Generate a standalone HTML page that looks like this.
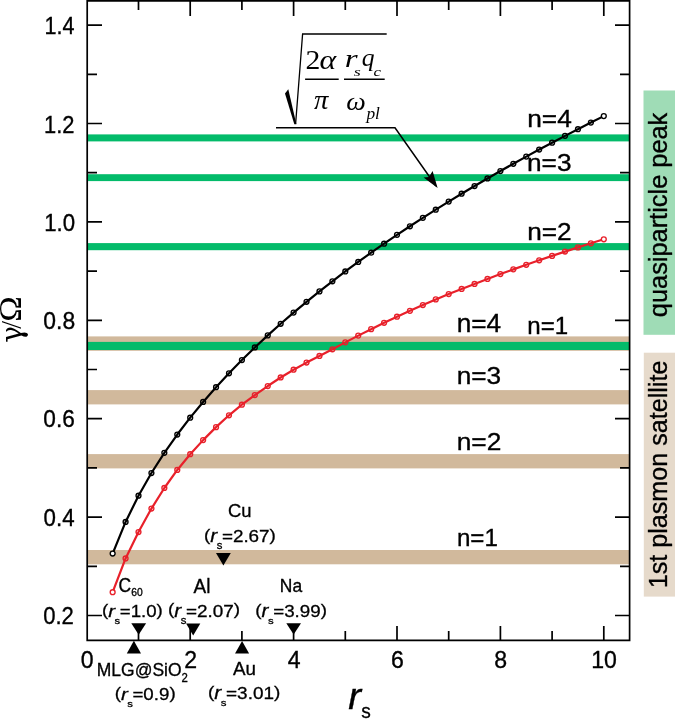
<!DOCTYPE html>
<html><head><meta charset="utf-8"><style>html,body{margin:0;padding:0;background:#fff;overflow:hidden}svg{display:block}</style></head>
<body><svg width="675" height="719" viewBox="0 0 675 719">
<rect width="675" height="719" fill="#fff"/>
<rect x="643.5" y="90.5" width="40" height="244.3" fill="#9fdcb6"/>
<rect x="643.8" y="352.7" width="40" height="243.9" fill="#e6dacb"/>
<rect x="88" y="336.4" width="541" height="14.4" fill="#d1b99c"/>
<rect x="88" y="390.1" width="541" height="14.3" fill="#d1b99c"/>
<rect x="88" y="454.1" width="541" height="14.3" fill="#d1b99c"/>
<rect x="88" y="550.0" width="541" height="14.3" fill="#d1b99c"/>
<rect x="88" y="134.4" width="541" height="7.0" fill="#03bb6a"/>
<rect x="88" y="174.2" width="541" height="6.9" fill="#03bb6a"/>
<rect x="88" y="243.1" width="541" height="7.1" fill="#03bb6a"/>
<rect x="88" y="341.9" width="541" height="8.1" fill="#03bb6a"/>
<polyline points="112.65,592.20 125.58,558.47 138.50,532.09 151.43,508.58 164.35,487.99 177.28,469.97 190.20,454.24 203.12,440.12 216.05,427.14 228.98,415.30 241.90,404.70 254.82,395.08 267.75,386.03 280.68,377.49 293.60,369.69 306.53,362.59 319.45,355.93 332.38,349.28 345.30,342.36 358.23,335.62 371.15,329.15 384.08,322.78 397.00,316.71 409.93,310.86 422.85,305.07 435.78,299.39 448.70,294.02 461.63,288.92 474.55,283.92 487.48,278.92 500.40,274.06 513.33,269.37 526.25,264.76 539.17,260.27 552.10,255.89 565.02,251.59 577.95,247.39 590.88,243.29 603.80,239.30" fill="none" stroke="#e8202a" stroke-width="2.2" stroke-linejoin="round"/>
<circle cx="112.65" cy="592.20" r="2.45" fill="#fff" stroke="#e8202a" stroke-width="1.35"/>
<circle cx="125.58" cy="558.47" r="2.45" fill="none" stroke="#e8202a" stroke-width="1.35"/>
<circle cx="138.50" cy="532.09" r="2.45" fill="none" stroke="#e8202a" stroke-width="1.35"/>
<circle cx="151.43" cy="508.58" r="2.45" fill="none" stroke="#e8202a" stroke-width="1.35"/>
<circle cx="164.35" cy="487.99" r="2.45" fill="none" stroke="#e8202a" stroke-width="1.35"/>
<circle cx="177.28" cy="469.97" r="2.45" fill="none" stroke="#e8202a" stroke-width="1.35"/>
<circle cx="190.20" cy="454.24" r="2.45" fill="none" stroke="#e8202a" stroke-width="1.35"/>
<circle cx="203.12" cy="440.12" r="2.45" fill="none" stroke="#e8202a" stroke-width="1.35"/>
<circle cx="216.05" cy="427.14" r="2.45" fill="none" stroke="#e8202a" stroke-width="1.35"/>
<circle cx="228.98" cy="415.30" r="2.45" fill="none" stroke="#e8202a" stroke-width="1.35"/>
<circle cx="241.90" cy="404.70" r="2.45" fill="none" stroke="#e8202a" stroke-width="1.35"/>
<circle cx="254.82" cy="395.08" r="2.45" fill="none" stroke="#e8202a" stroke-width="1.35"/>
<circle cx="267.75" cy="386.03" r="2.45" fill="none" stroke="#e8202a" stroke-width="1.35"/>
<circle cx="280.68" cy="377.49" r="2.45" fill="none" stroke="#e8202a" stroke-width="1.35"/>
<circle cx="293.60" cy="369.69" r="2.45" fill="none" stroke="#e8202a" stroke-width="1.35"/>
<circle cx="306.53" cy="362.59" r="2.45" fill="none" stroke="#e8202a" stroke-width="1.35"/>
<circle cx="319.45" cy="355.93" r="2.45" fill="none" stroke="#e8202a" stroke-width="1.35"/>
<circle cx="332.38" cy="349.28" r="2.45" fill="none" stroke="#e8202a" stroke-width="1.35"/>
<circle cx="345.30" cy="342.36" r="2.45" fill="none" stroke="#e8202a" stroke-width="1.35"/>
<circle cx="358.23" cy="335.62" r="2.45" fill="none" stroke="#e8202a" stroke-width="1.35"/>
<circle cx="371.15" cy="329.15" r="2.45" fill="none" stroke="#e8202a" stroke-width="1.35"/>
<circle cx="384.08" cy="322.78" r="2.45" fill="none" stroke="#e8202a" stroke-width="1.35"/>
<circle cx="397.00" cy="316.71" r="2.45" fill="none" stroke="#e8202a" stroke-width="1.35"/>
<circle cx="409.93" cy="310.86" r="2.45" fill="none" stroke="#e8202a" stroke-width="1.35"/>
<circle cx="422.85" cy="305.07" r="2.45" fill="none" stroke="#e8202a" stroke-width="1.35"/>
<circle cx="435.78" cy="299.39" r="2.45" fill="none" stroke="#e8202a" stroke-width="1.35"/>
<circle cx="448.70" cy="294.02" r="2.45" fill="none" stroke="#e8202a" stroke-width="1.35"/>
<circle cx="461.63" cy="288.92" r="2.45" fill="none" stroke="#e8202a" stroke-width="1.35"/>
<circle cx="474.55" cy="283.92" r="2.45" fill="none" stroke="#e8202a" stroke-width="1.35"/>
<circle cx="487.48" cy="278.92" r="2.45" fill="none" stroke="#e8202a" stroke-width="1.35"/>
<circle cx="500.40" cy="274.06" r="2.45" fill="none" stroke="#e8202a" stroke-width="1.35"/>
<circle cx="513.33" cy="269.37" r="2.45" fill="none" stroke="#e8202a" stroke-width="1.35"/>
<circle cx="526.25" cy="264.76" r="2.45" fill="none" stroke="#e8202a" stroke-width="1.35"/>
<circle cx="539.17" cy="260.27" r="2.45" fill="none" stroke="#e8202a" stroke-width="1.35"/>
<circle cx="552.10" cy="255.89" r="2.45" fill="none" stroke="#e8202a" stroke-width="1.35"/>
<circle cx="565.02" cy="251.59" r="2.45" fill="none" stroke="#e8202a" stroke-width="1.35"/>
<circle cx="577.95" cy="247.39" r="2.45" fill="none" stroke="#e8202a" stroke-width="1.35"/>
<circle cx="590.88" cy="243.29" r="2.45" fill="none" stroke="#e8202a" stroke-width="1.35"/>
<circle cx="603.80" cy="239.30" r="2.45" fill="#fff" stroke="#e8202a" stroke-width="1.35"/>
<polyline points="112.65,553.58 125.58,521.93 138.50,495.70 151.43,473.03 164.35,452.86 177.28,434.54 190.20,417.67 203.12,401.97 216.05,387.23 228.98,373.30 241.90,360.07 254.82,347.45 267.75,335.38 280.68,323.77 293.60,312.60 306.53,301.82 319.45,291.40 332.38,281.30 345.30,271.49 358.23,261.97 371.15,252.70 384.08,243.67 397.00,234.86 409.93,226.27 422.85,217.87 435.78,209.65 448.70,201.62 461.63,193.74 474.55,186.03 487.48,178.47 500.40,171.05 513.33,163.76 526.25,156.61 539.17,149.58 552.10,142.66 565.02,135.87 577.95,129.18 590.88,122.60 603.80,116.12" fill="none" stroke="#000" stroke-width="2.2" stroke-linejoin="round"/>
<circle cx="112.65" cy="553.58" r="2.45" fill="#fff" stroke="#000" stroke-width="1.35"/>
<circle cx="125.58" cy="521.93" r="2.45" fill="none" stroke="#000" stroke-width="1.35"/>
<circle cx="138.50" cy="495.70" r="2.45" fill="none" stroke="#000" stroke-width="1.35"/>
<circle cx="151.43" cy="473.03" r="2.45" fill="none" stroke="#000" stroke-width="1.35"/>
<circle cx="164.35" cy="452.86" r="2.45" fill="none" stroke="#000" stroke-width="1.35"/>
<circle cx="177.28" cy="434.54" r="2.45" fill="none" stroke="#000" stroke-width="1.35"/>
<circle cx="190.20" cy="417.67" r="2.45" fill="none" stroke="#000" stroke-width="1.35"/>
<circle cx="203.12" cy="401.97" r="2.45" fill="none" stroke="#000" stroke-width="1.35"/>
<circle cx="216.05" cy="387.23" r="2.45" fill="none" stroke="#000" stroke-width="1.35"/>
<circle cx="228.98" cy="373.30" r="2.45" fill="none" stroke="#000" stroke-width="1.35"/>
<circle cx="241.90" cy="360.07" r="2.45" fill="none" stroke="#000" stroke-width="1.35"/>
<circle cx="254.82" cy="347.45" r="2.45" fill="none" stroke="#000" stroke-width="1.35"/>
<circle cx="267.75" cy="335.38" r="2.45" fill="none" stroke="#000" stroke-width="1.35"/>
<circle cx="280.68" cy="323.77" r="2.45" fill="none" stroke="#000" stroke-width="1.35"/>
<circle cx="293.60" cy="312.60" r="2.45" fill="none" stroke="#000" stroke-width="1.35"/>
<circle cx="306.53" cy="301.82" r="2.45" fill="none" stroke="#000" stroke-width="1.35"/>
<circle cx="319.45" cy="291.40" r="2.45" fill="none" stroke="#000" stroke-width="1.35"/>
<circle cx="332.38" cy="281.30" r="2.45" fill="none" stroke="#000" stroke-width="1.35"/>
<circle cx="345.30" cy="271.49" r="2.45" fill="none" stroke="#000" stroke-width="1.35"/>
<circle cx="358.23" cy="261.97" r="2.45" fill="none" stroke="#000" stroke-width="1.35"/>
<circle cx="371.15" cy="252.70" r="2.45" fill="none" stroke="#000" stroke-width="1.35"/>
<circle cx="384.08" cy="243.67" r="2.45" fill="none" stroke="#000" stroke-width="1.35"/>
<circle cx="397.00" cy="234.86" r="2.45" fill="none" stroke="#000" stroke-width="1.35"/>
<circle cx="409.93" cy="226.27" r="2.45" fill="none" stroke="#000" stroke-width="1.35"/>
<circle cx="422.85" cy="217.87" r="2.45" fill="none" stroke="#000" stroke-width="1.35"/>
<circle cx="435.78" cy="209.65" r="2.45" fill="none" stroke="#000" stroke-width="1.35"/>
<circle cx="448.70" cy="201.62" r="2.45" fill="none" stroke="#000" stroke-width="1.35"/>
<circle cx="461.63" cy="193.74" r="2.45" fill="none" stroke="#000" stroke-width="1.35"/>
<circle cx="474.55" cy="186.03" r="2.45" fill="none" stroke="#000" stroke-width="1.35"/>
<circle cx="487.48" cy="178.47" r="2.45" fill="none" stroke="#000" stroke-width="1.35"/>
<circle cx="500.40" cy="171.05" r="2.45" fill="none" stroke="#000" stroke-width="1.35"/>
<circle cx="513.33" cy="163.76" r="2.45" fill="none" stroke="#000" stroke-width="1.35"/>
<circle cx="526.25" cy="156.61" r="2.45" fill="none" stroke="#000" stroke-width="1.35"/>
<circle cx="539.17" cy="149.58" r="2.45" fill="none" stroke="#000" stroke-width="1.35"/>
<circle cx="552.10" cy="142.66" r="2.45" fill="none" stroke="#000" stroke-width="1.35"/>
<circle cx="565.02" cy="135.87" r="2.45" fill="none" stroke="#000" stroke-width="1.35"/>
<circle cx="577.95" cy="129.18" r="2.45" fill="none" stroke="#000" stroke-width="1.35"/>
<circle cx="590.88" cy="122.60" r="2.45" fill="none" stroke="#000" stroke-width="1.35"/>
<circle cx="603.80" cy="116.12" r="2.45" fill="#fff" stroke="#000" stroke-width="1.35"/>
<g stroke="#000" stroke-width="1.7" fill="none">
<path d="M87.2,0.8 H629.6 V640.4 H87.2 Z"/>
<path d="M88,615.50 h14 M629,615.50 h-14"/>
<path d="M88,566.30 h9 M629,566.30 h-9"/>
<path d="M88,517.10 h14 M629,517.10 h-14"/>
<path d="M88,467.90 h9 M629,467.90 h-9"/>
<path d="M88,418.70 h14 M629,418.70 h-14"/>
<path d="M88,369.50 h9 M629,369.50 h-9"/>
<path d="M88,320.30 h14 M629,320.30 h-14"/>
<path d="M88,271.10 h9 M629,271.10 h-9"/>
<path d="M88,221.90 h14 M629,221.90 h-14"/>
<path d="M88,172.70 h9 M629,172.70 h-9"/>
<path d="M88,123.50 h14 M629,123.50 h-14"/>
<path d="M88,74.30 h9 M629,74.30 h-9"/>
<path d="M88,25.10 h14 M629,25.10 h-14"/>
<path d="M138.50,640 v-9 M138.50,1 v9"/>
<path d="M190.20,640 v-14 M190.20,1 v15"/>
<path d="M241.90,640 v-9 M241.90,1 v9"/>
<path d="M293.60,640 v-14 M293.60,1 v15"/>
<path d="M345.30,640 v-9 M345.30,1 v9"/>
<path d="M397.00,640 v-14 M397.00,1 v15"/>
<path d="M448.70,640 v-9 M448.70,1 v9"/>
<path d="M500.40,640 v-14 M500.40,1 v15"/>
<path d="M552.10,640 v-9 M552.10,1 v9"/>
<path d="M603.80,640 v-14 M603.80,1 v15"/>
</g>
<g transform="translate(43.16,624.46) scale(0.9218,0.9885)"><text style="font-family:'Liberation Sans',Arial,sans-serif;stroke:#000;stroke-width:0.35px;font-size:24px">0.2</text></g>
<g transform="translate(43.54,525.86) scale(0.9299,0.9887)"><text style="font-family:'Liberation Sans',Arial,sans-serif;stroke:#000;stroke-width:0.35px;font-size:24px">0.4</text></g>
<g transform="translate(43.36,427.36) scale(0.9445,0.9885)"><text style="font-family:'Liberation Sans',Arial,sans-serif;stroke:#000;stroke-width:0.35px;font-size:24px">0.6</text></g>
<g transform="translate(43.36,328.95) scale(0.9539,1.0057)"><text style="font-family:'Liberation Sans',Arial,sans-serif;stroke:#000;stroke-width:0.35px;font-size:24px">0.8</text></g>
<g transform="translate(44.22,230.56) scale(0.9250,0.9772)"><text style="font-family:'Liberation Sans',Arial,sans-serif;stroke:#000;stroke-width:0.35px;font-size:24px">1.0</text></g>
<g transform="translate(44.00,132.70) scale(0.9131,0.9851)"><text style="font-family:'Liberation Sans',Arial,sans-serif;stroke:#000;stroke-width:0.35px;font-size:24px">1.2</text></g>
<g transform="translate(44.43,34.20) scale(0.9004,0.9995)"><text style="font-family:'Liberation Sans',Arial,sans-serif;stroke:#000;stroke-width:0.35px;font-size:24px">1.4</text></g>
<g transform="translate(80.83,667.66) scale(0.9633,0.9890)"><text style="font-family:'Liberation Sans',Arial,sans-serif;stroke:#000;stroke-width:0.35px;font-size:24px">0</text></g>
<g transform="translate(184.30,667.90) scale(0.9633,0.9890)"><text style="font-family:'Liberation Sans',Arial,sans-serif;stroke:#000;stroke-width:0.35px;font-size:24px">2</text></g>
<g transform="translate(287.83,667.90) scale(0.9633,0.9890)"><text style="font-family:'Liberation Sans',Arial,sans-serif;stroke:#000;stroke-width:0.35px;font-size:24px">4</text></g>
<g transform="translate(390.96,667.66) scale(0.9633,0.9890)"><text style="font-family:'Liberation Sans',Arial,sans-serif;stroke:#000;stroke-width:0.35px;font-size:24px">6</text></g>
<g transform="translate(494.37,667.66) scale(0.9633,0.9890)"><text style="font-family:'Liberation Sans',Arial,sans-serif;stroke:#000;stroke-width:0.35px;font-size:24px">8</text></g>
<g transform="translate(591.21,667.66) scale(0.9633,0.9890)"><text style="font-family:'Liberation Sans',Arial,sans-serif;stroke:#000;stroke-width:0.35px;font-size:24px">10</text></g>
<g transform="translate(527.22,127.49) scale(1.0958,1.0349)"><text style="font-family:'Liberation Sans',Arial,sans-serif;stroke:#000;stroke-width:0.35px;font-size:24px">n=4</text></g>
<g transform="translate(527.00,171.35) scale(1.0921,1.0001)"><text style="font-family:'Liberation Sans',Arial,sans-serif;stroke:#000;stroke-width:0.35px;font-size:24px">n=3</text></g>
<g transform="translate(527.23,239.59) scale(1.0917,1.0142)"><text style="font-family:'Liberation Sans',Arial,sans-serif;stroke:#000;stroke-width:0.35px;font-size:24px">n=2</text></g>
<g transform="translate(527.32,334.20) scale(1.0041,0.9935)"><text style="font-family:'Liberation Sans',Arial,sans-serif;stroke:#000;stroke-width:0.35px;font-size:24px">n=1</text></g>
<g transform="translate(456.74,331.98) scale(1.0923,1.0527)"><text style="font-family:'Liberation Sans',Arial,sans-serif;stroke:#000;stroke-width:0.35px;font-size:24px">n=4</text></g>
<g transform="translate(456.72,384.45) scale(1.0931,1.0001)"><text style="font-family:'Liberation Sans',Arial,sans-serif;stroke:#000;stroke-width:0.35px;font-size:24px">n=3</text></g>
<g transform="translate(456.69,449.79) scale(1.0969,1.0259)"><text style="font-family:'Liberation Sans',Arial,sans-serif;stroke:#000;stroke-width:0.35px;font-size:24px">n=2</text></g>
<g transform="translate(456.94,545.99) scale(1.0067,1.0231)"><text style="font-family:'Liberation Sans',Arial,sans-serif;stroke:#000;stroke-width:0.35px;font-size:24px">n=1</text></g>
<g transform="translate(227.92,517.27) scale(0.9188,0.9053)"><text style="font-family:'Liberation Sans',Arial,sans-serif;stroke:#000;stroke-width:0.35px;font-size:20px">Cu</text></g>
<g transform="translate(204.04,541.94) scale(0.9425,0.8479)"><text style="font-family:'Liberation Sans',Arial,sans-serif;stroke:#000;stroke-width:0.35px;font-size:20px"><tspan dy="-1.4">(</tspan><tspan dy="1.4" style="font-style:italic;font-size:22px">r</tspan><tspan dy="8.8" dx="-0.6" style="font-size:12px">s</tspan><tspan dy="-8.8" dx="-0.4">=2.67</tspan><tspan dy="-1.4">)</tspan></text></g>
<g transform="translate(118.59,592.34) scale(0.8735,0.9810)"><text style="font-family:'Liberation Sans',Arial,sans-serif;stroke:#000;stroke-width:0.35px;font-size:20px">C<tspan dy="3.8" dx="0.2" style="font-size:11.8px">60</tspan></text></g>
<g transform="translate(102.03,616.98) scale(0.9329,0.7884)"><text style="font-family:'Liberation Sans',Arial,sans-serif;stroke:#000;stroke-width:0.35px;font-size:20px"><tspan dy="-1.4">(</tspan><tspan dy="1.4" style="font-style:italic;font-size:22px">r</tspan><tspan dy="8.8" dx="-0.6" style="font-size:12px">s</tspan><tspan dy="-8.8" dx="-0.4">=1.0</tspan><tspan dy="-1.4">)</tspan></text></g>
<g transform="translate(193.50,592.50) scale(0.9498,0.9927)"><text style="font-family:'Liberation Sans',Arial,sans-serif;stroke:#000;stroke-width:0.35px;font-size:20px">Al</text></g>
<g transform="translate(168.03,616.55) scale(0.9461,0.8360)"><text style="font-family:'Liberation Sans',Arial,sans-serif;stroke:#000;stroke-width:0.35px;font-size:20px"><tspan dy="-1.4">(</tspan><tspan dy="1.4" style="font-style:italic;font-size:22px">r</tspan><tspan dy="8.8" dx="-0.6" style="font-size:12px">s</tspan><tspan dy="-8.8" dx="-0.4">=2.07</tspan><tspan dy="-1.4">)</tspan></text></g>
<g transform="translate(279.83,592.37) scale(0.8708,0.9363)"><text style="font-family:'Liberation Sans',Arial,sans-serif;stroke:#000;stroke-width:0.35px;font-size:20px">Na</text></g>
<g transform="translate(255.35,616.69) scale(0.9395,0.8201)"><text style="font-family:'Liberation Sans',Arial,sans-serif;stroke:#000;stroke-width:0.35px;font-size:20px"><tspan dy="-1.4">(</tspan><tspan dy="1.4" style="font-style:italic;font-size:22px">r</tspan><tspan dy="8.8" dx="-0.6" style="font-size:12px">s</tspan><tspan dy="-8.8" dx="-0.4">=3.99</tspan><tspan dy="-1.4">)</tspan></text></g>
<g transform="translate(96.80,676.09) scale(0.8751,0.9517)"><text style="font-family:'Liberation Sans',Arial,sans-serif;stroke:#000;stroke-width:0.35px;font-size:20px">MLG@SiO<tspan dy="6" style="font-size:13px">2</tspan></text></g>
<g transform="translate(114.67,699.74) scale(0.9365,0.7924)"><text style="font-family:'Liberation Sans',Arial,sans-serif;stroke:#000;stroke-width:0.35px;font-size:20px"><tspan dy="-1.4">(</tspan><tspan dy="1.4" style="font-style:italic;font-size:22px">r</tspan><tspan dy="8.8" dx="-0.6" style="font-size:12px">s</tspan><tspan dy="-8.8" dx="-0.4">=0.9</tspan><tspan dy="-1.4">)</tspan></text></g>
<g transform="translate(233.07,674.68) scale(0.9389,0.8871)"><text style="font-family:'Liberation Sans',Arial,sans-serif;stroke:#000;stroke-width:0.35px;font-size:20px">Au</text></g>
<g transform="translate(208.01,699.14) scale(0.9495,0.7924)"><text style="font-family:'Liberation Sans',Arial,sans-serif;stroke:#000;stroke-width:0.35px;font-size:20px"><tspan dy="-1.4">(</tspan><tspan dy="1.4" style="font-style:italic;font-size:22px">r</tspan><tspan dy="8.8" dx="-0.6" style="font-size:12px">s</tspan><tspan dy="-8.8" dx="-0.4">=3.01</tspan><tspan dy="-1.4">)</tspan></text></g>
<g transform="translate(348.32,708.61) scale(0.9610,0.9450)"><text style="font-family:'Liberation Sans',Arial,sans-serif;stroke:#000;stroke-width:0.35px;font-size:40px;font-style:italic">r</text></g>
<g transform="translate(361.37,717.77) scale(0.8661,0.9142)"><text style="font-family:'Liberation Sans',Arial,sans-serif;stroke:#000;stroke-width:0.35px;font-size:22px">s</text></g>
<g transform="translate(305.43,68.70) scale(1.0594,0.9817)"><text style="font-family:'Liberation Serif','Times New Roman',serif;font-size:28px">2</text></g>
<g transform="translate(319.44,68.93) scale(1.1369,0.9417)"><text style="font-family:'Liberation Serif','Times New Roman',serif;font-size:28px;font-style:italic">α</text></g>
<g transform="translate(344.86,66.50) scale(1.1826,0.9245)"><text style="font-family:'Liberation Serif','Times New Roman',serif;font-size:28px;font-style:italic">r</text></g>
<g transform="translate(353.72,76.37) scale(0.9527,0.6448)"><text style="font-family:'Liberation Serif','Times New Roman',serif;font-size:19px;font-style:italic">s</text></g>
<g transform="translate(361.73,66.29) scale(0.9156,0.9084)"><text style="font-family:'Liberation Serif','Times New Roman',serif;font-size:28px;font-style:italic">q</text></g>
<g transform="translate(373.56,76.36) scale(0.8826,0.6888)"><text style="font-family:'Liberation Serif','Times New Roman',serif;font-size:19px;font-style:italic">c</text></g>
<g transform="translate(313.96,108.96) scale(1.0196,0.9451)"><text style="font-family:'Liberation Serif','Times New Roman',serif;font-size:28px;font-style:italic">π</text></g>
<g transform="translate(346.28,109.77) scale(0.9882,0.9245)"><text style="font-family:'Liberation Serif','Times New Roman',serif;font-size:28px;font-style:italic">ω</text></g>
<g transform="translate(366.43,118.71) scale(0.9140,0.8871)"><text style="font-family:'Liberation Serif','Times New Roman',serif;font-size:19px;font-style:italic">pl</text></g>
<g transform="rotate(-90)"><g transform="translate(-317.20,667.12) scale(0.9763,1.0064)"><text style="font-family:'Liberation Sans',Arial,sans-serif;stroke:#000;stroke-width:0.35px;font-size:26px">quasiparticle peak</text></g></g>
<g transform="rotate(-90)"><g transform="translate(-588.20,666.83) scale(0.9667,0.9698)"><text style="font-family:'Liberation Sans',Arial,sans-serif;stroke:#000;stroke-width:0.35px;font-size:26px">1st plasmon satellite</text></g></g>
<g transform="rotate(-90)"><g transform="translate(-321.65,21.30) scale(1.0761,0.9858)"><text style="font-family:'Liberation Serif','Times New Roman',serif;font-size:32px">Ω</text></g></g>
<g transform="rotate(-90)"><g transform="translate(-328.82,21.03) scale(0.8675,0.9375)"><text style="font-family:'Liberation Serif','Times New Roman',serif;font-size:32px">/</text></g></g>
<g transform="rotate(-90)"><g transform="translate(-342.78,21.63) scale(0.9322,1.0187)"><text style="font-family:'DejaVu Serif',serif;font-size:30px">γ</text></g></g>
<path d="M216.00,553.0 h14.8 l-7.40,12.4 Z" fill="#000"/>
<path d="M131.30,623.2 h14.8 l-7.40,11.6 Z" fill="#000"/>
<path d="M186.10,623.4 h14.2 l-7.10,12.0 Z" fill="#000"/>
<path d="M286.30,623.2 h14.7 l-7.35,11.4 Z" fill="#000"/>
<path d="M126.80,653.6 h14.2 l-7.10,-12.8 Z" fill="#000"/>
<path d="M235.00,653.6 h14.1 l-7.05,-12.5 Z" fill="#000"/>
<path d="M285.0,93.4 L288.3,89.2 L296.4,124.3 L294.3,124.3 Z" fill="#000"/>
<g stroke="#000" fill="none">
<path d="M295.6,124.0 L302.6,34 H386.7" stroke-width="1.3"/>
<path d="M305.1,79.3 H338.7 M344,79.3 H384.7" stroke-width="1.4"/>
<path d="M276,127.7 H395 L436,186" stroke-width="1.5"/>
</g>
<path d="M437.6,187.9 L423.6,177.6 L429,177 L432.6,171.1 Z" fill="#000"/>
</svg></body></html>
